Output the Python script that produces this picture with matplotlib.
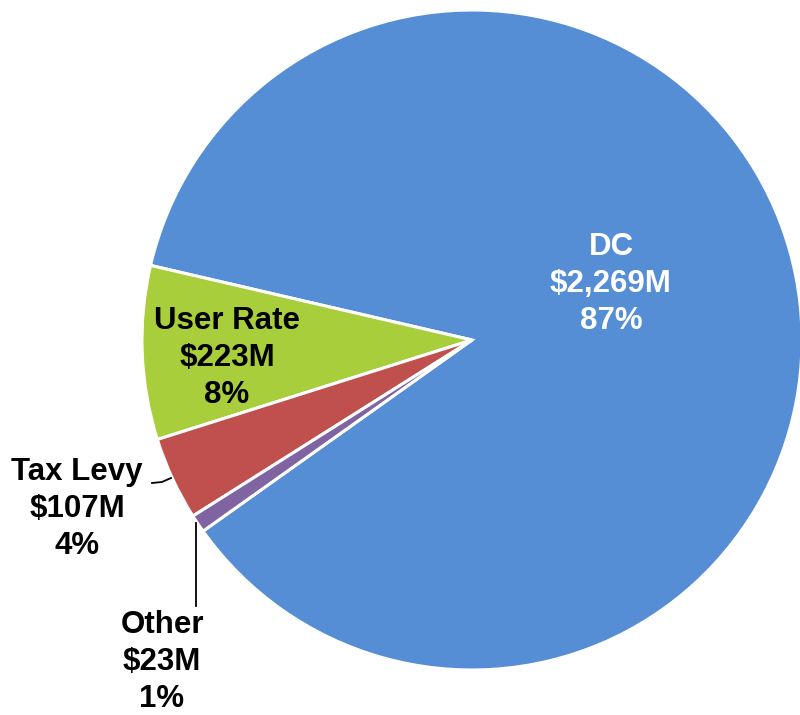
import matplotlib.pyplot as plt

categories = ["DC", "User Rate", "Tax Levy", "Other"]
amounts = [2269, 223, 107, 23]  # $M
percents = [87, 8, 4, 1]
colors = ["#558ED5", "#A9CE3B", "#C0504D", "#8064A2"]

W, H = 800, 715

fig = plt.figure(figsize=(8, 7.15), dpi=100)
ax = fig.add_axes([0, 0, 1, 1])

cx, cy, r = 472, H - 340, 330
ax.pie(amounts, colors=colors, startangle=215.4, counterclock=True,
       center=(cx, cy), radius=r, frame=True,
       wedgeprops=dict(edgecolor="white", linewidth=2.2))
ax.set_xlim(0, W)
ax.set_ylim(0, H)
ax.set_aspect("equal")
ax.axis("off")


def label(i, x, y, color="black"):
    txt = f"{categories[i]}\n${amounts[i]:,}M\n{percents[i]}%"
    ax.text(x, H - y, txt, ha="center", va="center", color=color,
            fontsize=22.5, fontweight="bold", family="Liberation Sans",
            linespacing=1.32)


label(0, 611, 284, color="white")
label(1, 227, 358)
label(2, 77, 509)
label(3, 162, 662)

# leader lines for the two small slices
ax.plot([152, 162, 171], [H - 483, H - 482, H - 478], color="black", lw=1.3)
ax.plot([196, 196], [H - 523, H - 606], color="black", lw=1.3)

fig.savefig("out.png", dpi=100)
